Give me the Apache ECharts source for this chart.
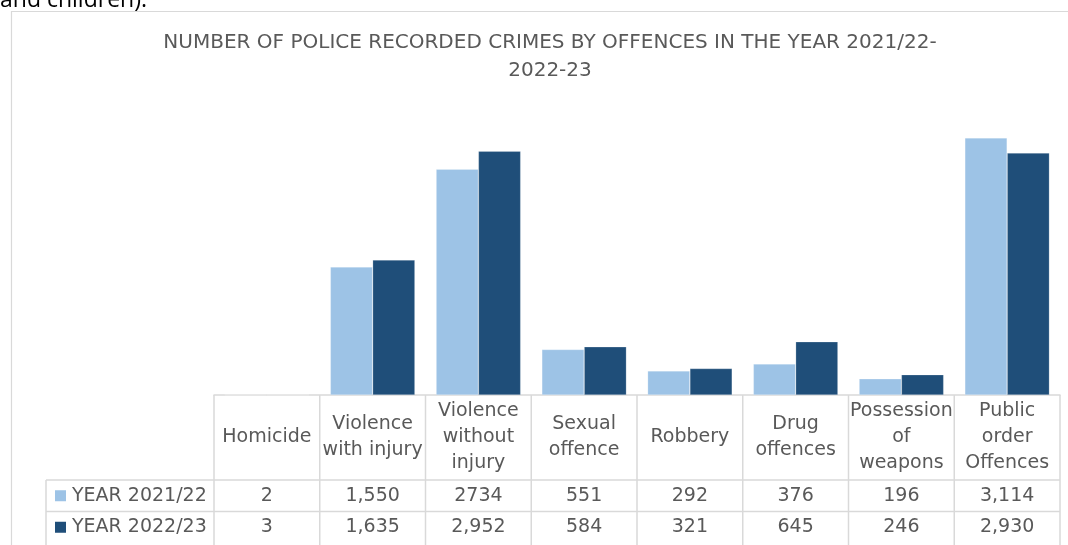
<!DOCTYPE html>
<html>
<head>
<meta charset="utf-8">
<script src="https://cdn.jsdelivr.net/npm/echarts@6/dist/echarts.min.js"></script>
<style>html,body{margin:0;padding:0;background:#fff;}#c{width:1068px;height:545px;}</style>
</head>
<body>
<div id="c"></div>
<script>
const categories = ['Homicide', 'Violence\nwith injury', 'Violence\nwithout\ninjury', 'Sexual\noffence', 'Robbery', 'Drug\noffences', 'Possession\nof\nweapons', 'Public\norder\nOffences'];
const seriesNames = ['YEAR 2021/22', 'YEAR 2022/23'];
const values2122 = [2, 1550, 2734, 551, 292, 376, 196, 3114];
const values2223 = [3, 1635, 2952, 584, 321, 645, 246, 2930];
const labels2122 = ['2', '1,550', '2734', '551', '292', '376', '196', '3,114'];
const labels2223 = ['3', '1,635', '2,952', '584', '321', '645', '246', '2,930'];
const colors = ['#9DC3E6', '#1F4E79'];
const titleText = 'NUMBER OF POLICE RECORDED CRIMES BY OFFENCES IN THE YEAR 2021/22-\n2022-23';

const FONT = 'DejaVu Sans';
const TXT = '#595959';
const LINE = '#d9d9d9';

const chart = echarts.init(document.getElementById('c'), null, {renderer: 'canvas'});
const gridLeft = 214, gridRight = 8, gridTop = 106, gridBottom = 150;

chart.setOption({
  animation: false,
  backgroundColor: '#fff',
  title: {
    text: titleText, left: 545, top: 24, textAlign: 'center',
    textStyle: {fontFamily: FONT, fontSize: 20, fontWeight: 'normal', color: TXT, lineHeight: 28}
  },
  grid: {left: gridLeft, right: gridRight, top: gridTop, bottom: gridBottom},
  xAxis: {
    type: 'category', data: categories,
    axisLine: {show: true, lineStyle: {color: LINE, width: 1.5}},
    axisTick: {show: false}, axisLabel: {show: false}
  },
  yAxis: {type: 'value', min: 0, max: 3500, show: false, splitLine: {show: false}},
  series: [
    {name: seriesNames[0], type: 'bar', data: values2122, barGap: '0%', barCategoryGap: '20%',
     itemStyle: {color: colors[0], borderColor: 'rgba(255,255,255,0.35)', borderWidth: 0.6}},
    {name: seriesNames[1], type: 'bar', data: values2223,
     itemStyle: {color: colors[1], borderColor: 'rgba(255,255,255,0.35)', borderWidth: 0.6}}
  ]
});

const g = [];
const n = categories.length;
const x0 = chart.convertToPixel({xAxisIndex: 0}, 0);
const x1 = chart.convertToPixel({xAxisIndex: 0}, 1);
const bw = x1 - x0;
const left = x0 - bw / 2;
const right = left + bw * n;
const axisY = 545 - gridBottom;
const row1 = 480, row2 = 511.5, row3 = 543;
const keyLeft = 46;
const TF = '19px "' + FONT + '"';

g.push({type: 'rect', shape: {x: 11.5, y: 11.5, width: 1100, height: 600}, style: {fill: null, stroke: LINE, lineWidth: 1.2}, z: 0});
g.push({type: 'text', x: 0, y: 0, style: {text: 'and children).', font: '23px "Open Sans"', fill: '#000', verticalAlign: 'middle', textVerticalAlign: 'middle'}});

[row1, row2].forEach(y => g.push({type: 'line', shape: {x1: keyLeft, y1: y, x2: right, y2: y}, style: {stroke: LINE, lineWidth: 1.5}}));
for (let i = 0; i <= n; i++) {
  const x = left + bw * i;
  g.push({type: 'line', shape: {x1: x, y1: axisY, x2: x, y2: 545}, style: {stroke: LINE, lineWidth: 1.5}});
}
g.push({type: 'line', shape: {x1: keyLeft, y1: row1, x2: keyLeft, y2: 545}, style: {stroke: LINE, lineWidth: 1.5}});

for (let i = 0; i < n; i++) {
  const cx = chart.convertToPixel({xAxisIndex: 0}, i);
  g.push({type: 'text', x: cx, y: (axisY + row1) / 2 - 0.5,
    style: {text: categories[i], font: TF, fill: TXT, textAlign: 'center', textVerticalAlign: 'middle', lineHeight: 26}});
  g.push({type: 'text', x: cx, y: (row1 + row2) / 2,
    style: {text: labels2122[i], font: TF, fill: TXT, textAlign: 'center', textVerticalAlign: 'middle'}});
  g.push({type: 'text', x: cx, y: (row2 + row3) / 2,
    style: {text: labels2223[i], font: TF, fill: TXT, textAlign: 'center', textVerticalAlign: 'middle'}});
}
[(row1 + row2) / 2, (row2 + row3) / 2].forEach((cy, k) => {
  g.push({type: 'rect', shape: {x: 55, y: cy - 5.5, width: 11, height: 11}, style: {fill: colors[k]}});
  g.push({type: 'text', x: 72, y: cy, style: {text: seriesNames[k], font: TF, fill: TXT, textVerticalAlign: 'middle'}});
});

chart.setOption({graphic: g});
</script>
</body>
</html>
